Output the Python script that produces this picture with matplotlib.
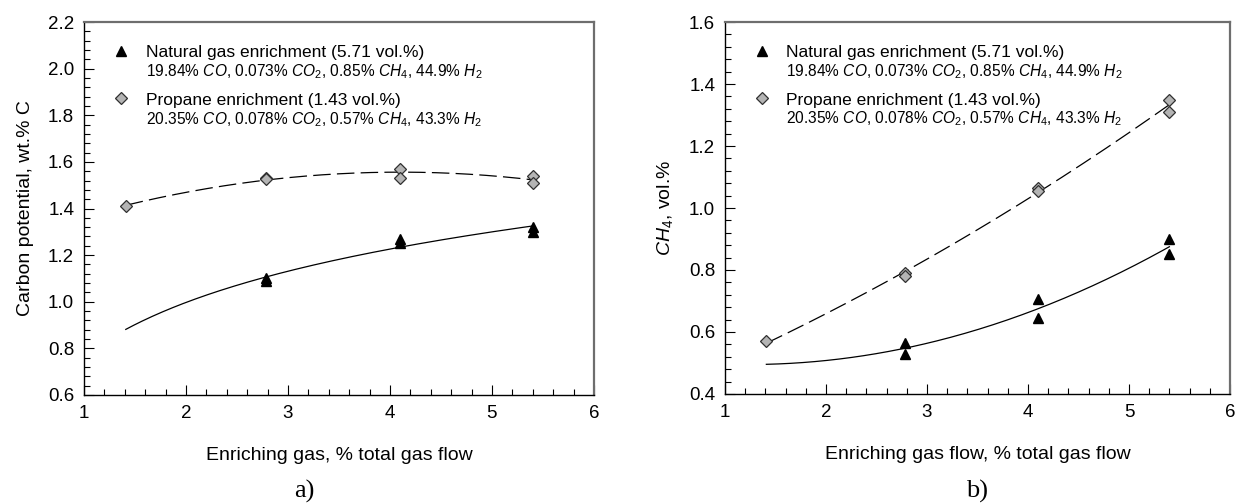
import numpy as np
import matplotlib.pyplot as plt
from matplotlib.ticker import MultipleLocator, AutoMinorLocator
from matplotlib.lines import Line2D

plt.rcParams['font.family'] = ['Liberation Sans', 'DejaVu Sans']
plt.rcParams['mathtext.fontset'] = 'custom'
plt.rcParams['mathtext.rm'] = 'Liberation Sans'
plt.rcParams['mathtext.it'] = 'Liberation Sans:italic'

# data
ng_x = [2.78, 2.78, 4.1, 4.1, 5.4, 5.4]
ng_cp = [1.10, 1.09, 1.27, 1.25, 1.32, 1.30]
pr_x = [1.41, 2.78, 2.78, 4.1, 4.1, 5.4, 5.4]
pr_cp = [1.41, 1.53, 1.525, 1.57, 1.53, 1.54, 1.51]

ng_ch4 = [0.565, 0.53, 0.705, 0.645, 0.90, 0.85]
pr_ch4 = [0.57, 0.79, 0.78, 1.065, 1.055, 1.35, 1.31]

fit_start = 1.41
fit_end = 5.4

ng_label = 'Natural gas enrichment (5.71 vol.%)'
ng_sub = r'19.84% $\mathit{CO}$, 0.073% $\mathit{CO}_2$, 0.85% $\mathit{CH}_4$, 44.9% $\mathit{H}_2$'
pr_label = 'Propane enrichment (1.43 vol.%)'
pr_sub = r'20.35% $\mathit{CO}$, 0.078% $\mathit{CO}_2$, 0.57% $\mathit{CH}_4$, 43.3% $\mathit{H}_2$'

fig = plt.figure(figsize=(12.42, 5.04), dpi=100)
ax1 = fig.add_axes([0.0676, 0.2163, 0.4106, 0.740])
ax2 = fig.add_axes([0.5837, 0.2183, 0.4066, 0.738])

xs = np.linspace(fit_start, fit_end, 200)


def log_fit(x, y):
    c = np.polyfit(np.log(x), y, 1)
    return np.polyval(c, np.log(xs))


def quad_fit(x, y):
    c = np.polyfit(x, y, 2)
    return np.polyval(c, xs)


tri = dict(marker='^', color='black', markersize=7, linestyle='none', zorder=3)
dia = dict(marker='D', markerfacecolor='#b4b4b4', markeredgecolor='#303030',
           markeredgewidth=0.9, markersize=6.5, linestyle='none', zorder=3)
dash = (14, 5)

# a) carbon potential
ax1.plot(xs, log_fit(ng_x, ng_cp), color='black', lw=0.9)
ax1.plot(xs, quad_fit(pr_x, pr_cp), color='black', lw=0.9, dashes=dash)
ax1.plot(ng_x, ng_cp, **tri)
ax1.plot(pr_x, pr_cp, **dia)

# b) CH4
ax2.plot(xs, quad_fit(ng_x, ng_ch4), color='black', lw=0.9)
ax2.plot(xs, quad_fit(pr_x, pr_ch4), color='black', lw=0.9, dashes=dash)
ax2.plot(ng_x, ng_ch4, **tri)
ax2.plot(pr_x, pr_ch4, **dia)

for ax, ylim in ((ax1, (0.6, 2.2)), (ax2, (0.4, 1.6))):
    ax.set_xlim(1, 6)
    ax.set_ylim(*ylim)
    ax.xaxis.set_major_locator(MultipleLocator(1))
    ax.xaxis.set_minor_locator(AutoMinorLocator(5))
    ax.yaxis.set_major_locator(MultipleLocator(0.2))
    ax.yaxis.set_minor_locator(AutoMinorLocator(5))
    ax.tick_params(which='both', direction='in', top=False, right=False,
                   labelsize=13.5, width=0.8)
    ax.tick_params(which='major', length=7, pad=7)
    ax.tick_params(which='minor', length=4)
    ax.yaxis.set_major_formatter(plt.FormatStrFormatter('%.1f'))
    for s in ('left', 'bottom'):
        ax.spines[s].set_linewidth(1.0)
    for s in ('top', 'right'):
        ax.spines[s].set_color('#6e6e6e')
        ax.spines[s].set_linewidth(1.6)

ax1.set_xlabel('Enriching gas, % total gas flow', fontsize=14, labelpad=18)
ax1.set_ylabel('Carbon potential, wt.% C', fontsize=14, labelpad=10)
ax2.set_xlabel('Enriching gas flow, % total gas flow', fontsize=14, labelpad=18)
ax2.set_ylabel(r'$\mathit{CH}_4$, vol.%', fontsize=14, labelpad=10)

fig.text(0.245, 0.012, 'a)', family='Liberation Serif', fontsize=19, ha='center')
fig.text(0.787, 0.012, 'b)', family='Liberation Serif', fontsize=19, ha='center')

handles = [Line2D([], [], **tri), Line2D([], [], **dia)]
for ax in (ax1, ax2):
    leg = ax.legend(handles, [ng_label, pr_label], loc='upper left',
                    bbox_to_anchor=(0.053, 0.938), frameon=False, fontsize=12.5,
                    labelspacing=1.85, handletextpad=0.8, handlelength=1.2,
                    borderpad=0, borderaxespad=0)
    fig.canvas.draw()
    inv = ax.transAxes.inverted()
    for t, sub in zip(leg.get_texts(), [ng_sub, pr_sub]):
        bb = t.get_window_extent()
        x0, y0 = inv.transform((bb.x0, bb.y0))
        ax.text(x0, y0 - 0.006, sub, transform=ax.transAxes, fontsize=11.2,
                va='top', ha='left')

fig.savefig('out.png', dpi=100)
